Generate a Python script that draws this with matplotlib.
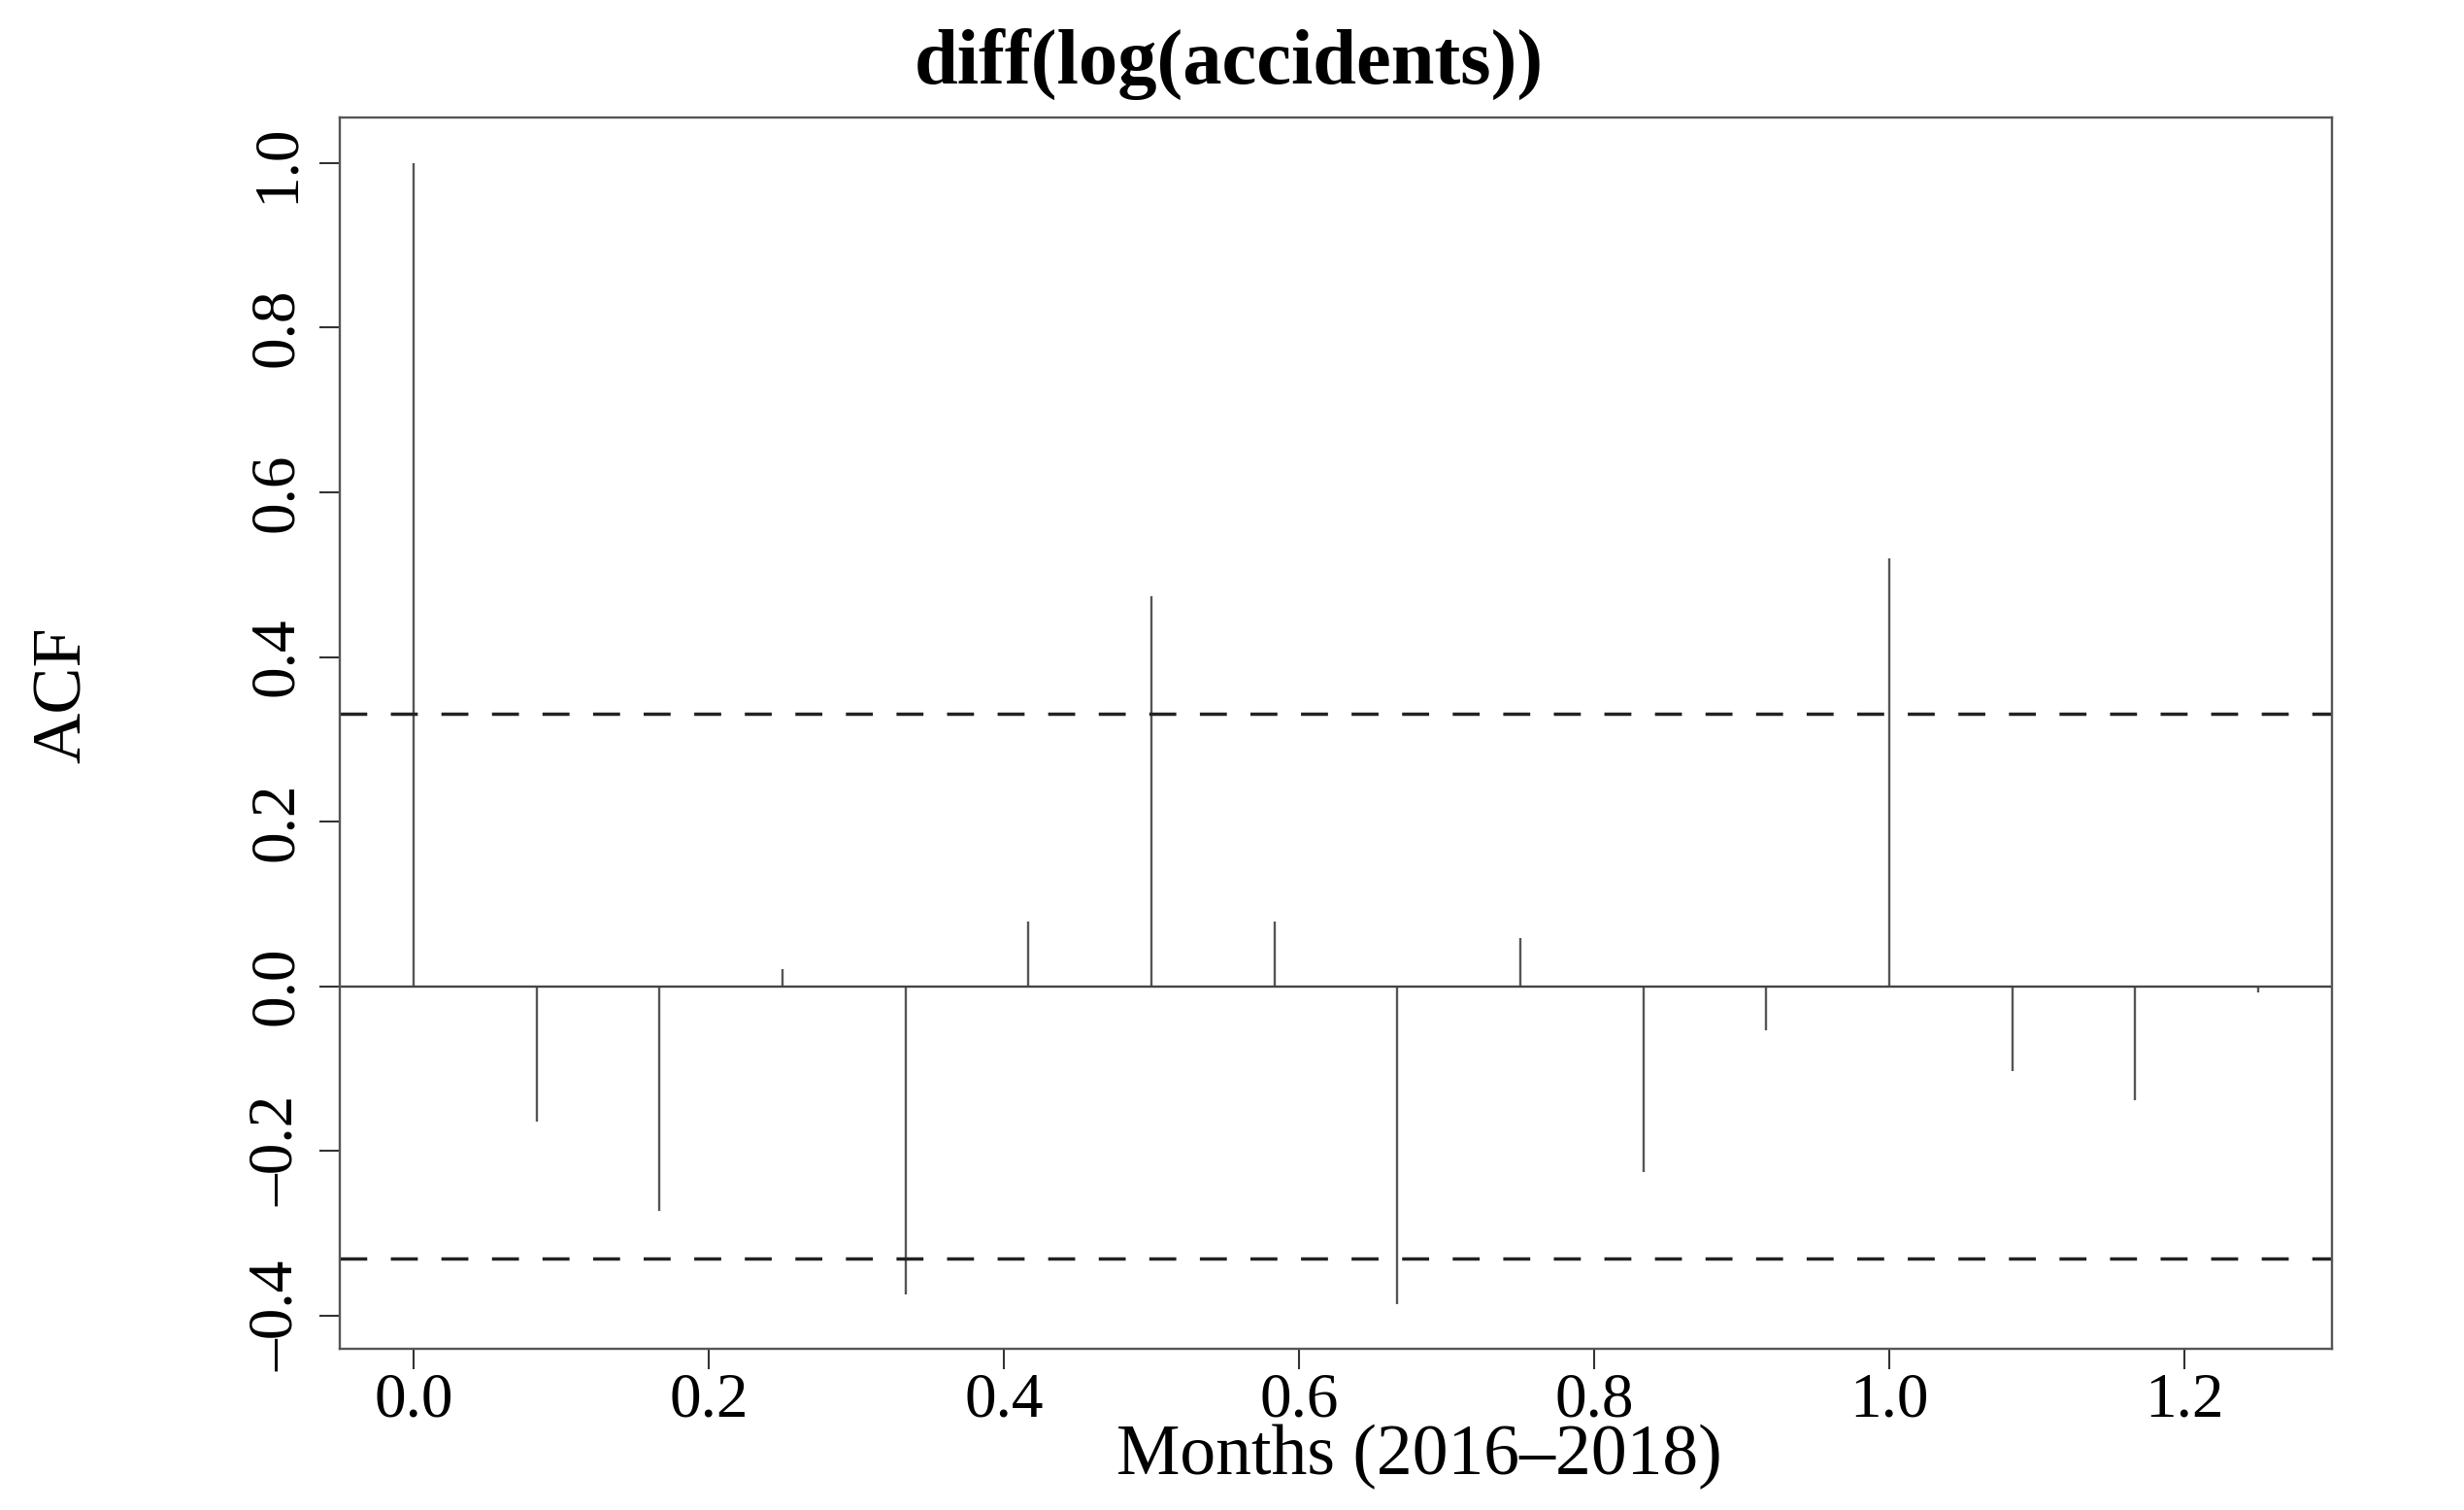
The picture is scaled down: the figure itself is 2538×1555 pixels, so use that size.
import matplotlib
matplotlib.use('Agg')
import matplotlib.pyplot as plt

# ACF of diff(log(accidents)), lags in years (monthly data)
lags = [0, 1/12, 2/12, 3/12, 4/12, 5/12, 6/12, 7/12, 8/12, 9/12, 10/12, 11/12, 12/12, 13/12, 14/12, 15/12]
acf = [1.0, -0.164, -0.273, 0.021, -0.375, 0.078, 0.474, 0.078, -0.386, 0.059, -0.226, -0.054, 0.520, -0.103, -0.138, -0.008]
ci = 0.331
xticks = [0.0, 0.2, 0.4, 0.6, 0.8, 1.0, 1.2]
yticks = [-0.4, -0.2, 0.0, 0.2, 0.4, 0.6, 0.8, 1.0]

plt.rcParams['font.family'] = ['Liberation Serif', 'DejaVu Serif']

fig = plt.figure(figsize=(25.38, 15.55), dpi=100)
ax = fig.add_axes([0.1379, 0.1068, 0.8085, 0.8154])

ax.vlines(lags, 0, acf, color='#555555', linewidth=1.7)
ax.axhline(0, color='#444444', linewidth=1.7)
ax.axhline(ci, color='#222222', linewidth=2.5, linestyle=(0, (8, 7)))
ax.axhline(-ci, color='#222222', linewidth=2.5, linestyle=(0, (8, 7)))

ax.set_xlim(-0.05, 1.30)
ax.set_ylim(-0.4404, 1.0554)
ax.set_xticks(xticks)
ax.set_xticklabels(['%.1f' % v for v in xticks])
ax.set_yticks(yticks)
ax.set_yticklabels([('%.1f' % v).replace('-', '\u2013') for v in yticks], rotation=90, va='center')

for s in ax.spines.values():
    s.set_color('#555555')
    s.set_linewidth(1.7)
ax.tick_params(axis='both', length=15, width=1.5, color='#333333', labelsize=47)
ax.tick_params(axis='x', pad=2)
ax.tick_params(axis='y', pad=10)

fig.text(1266/2538, 1 - 66/1555, 'diff(log(accidents))', ha='center', va='center',
         fontsize=58, fontweight='bold')
fig.text(1462/2538, 1 - 1500/1555, 'Months (2016\u20132018)', ha='center', va='center',
         fontsize=53)
fig.text(65/2538, 1 - 716/1555, 'ACF', ha='center', va='center', rotation=90, fontsize=52)

fig.savefig('out.png', dpi=100)
